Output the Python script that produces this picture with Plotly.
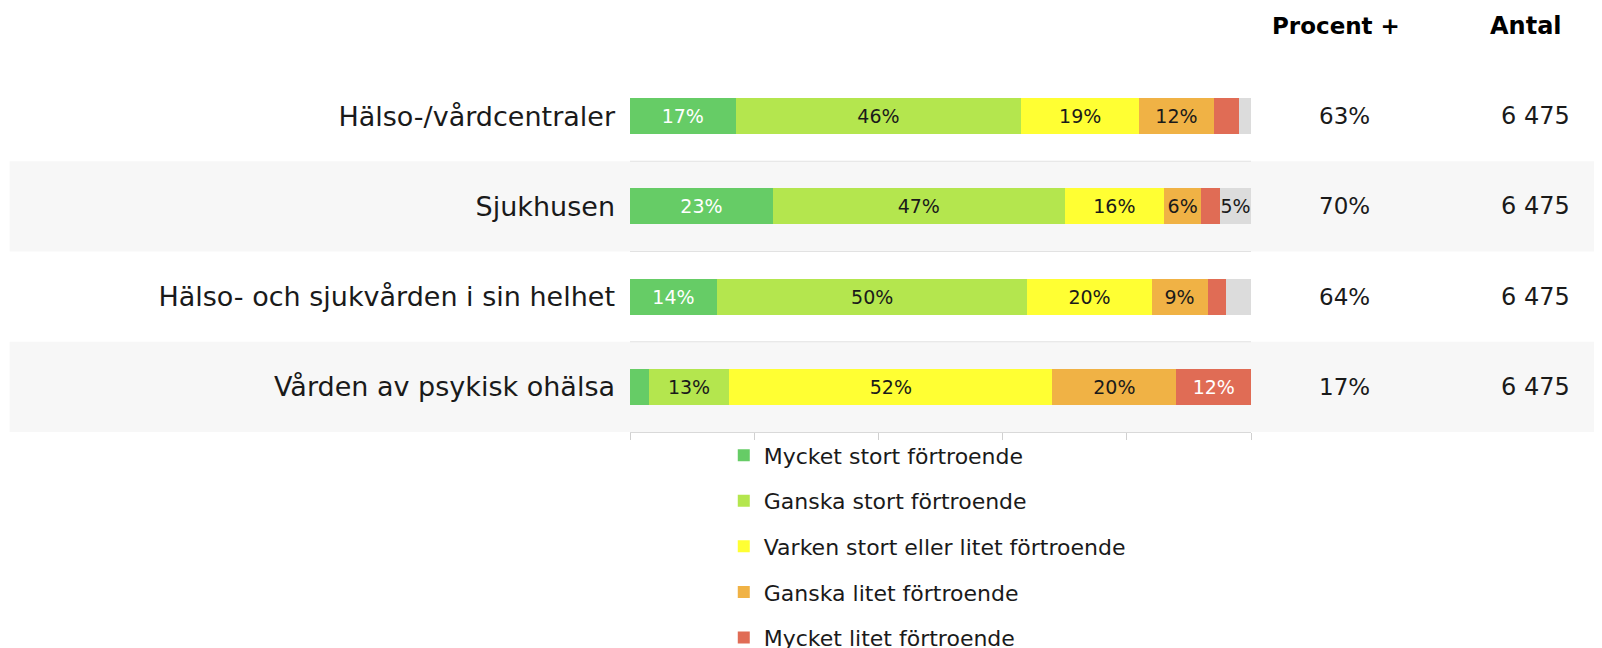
import plotly.graph_objects as go

categories = [
    "Hälso-/vårdcentraler",
    "Sjukhusen",
    "Hälso- och sjukvården i sin helhet",
    "Vården av psykisk ohälsa",
]
series_names = [
    "Mycket stort förtroende",
    "Ganska stort förtroende",
    "Varken stort eller litet förtroende",
    "Ganska litet förtroende",
    "Mycket litet förtroende",
    "Vet ej",
]
mycket_stort = [17, 23, 14, 3]
ganska_stort = [46, 47, 50, 13]
varken = [19, 16, 20, 52]
ganska_litet = [12, 6, 9, 20]
mycket_litet = [4, 3, 3, 12]
vet_ej = [2, 5, 4, 0]
procent_plus = ["63%", "70%", "64%", "17%"]
antal = ["6 475", "6 475", "6 475", "6 475"]

series_values = [mycket_stort, ganska_stort, varken, ganska_litet, mycket_litet, vet_ej]
colors = ["#66CC66", "#B4E64E", "#FFFF33", "#F0B245", "#E06C55", "#DCDCDC"]
text_colors = ["white", "#1a1a1a", "#1a1a1a", "#1a1a1a", "white", "#1a1a1a"]
show_in_legend = [True, True, True, True, True, False]

FONT = "DejaVu Sans"
TXT = "#1a1a1a"

fig = go.Figure()
for name, vals, col, tcol, sl in zip(series_names, series_values, colors, text_colors, show_in_legend):
    fig.add_trace(go.Bar(
        y=categories,
        x=vals,
        name=name,
        orientation="h",
        marker=dict(color=col, line=dict(width=0)),
        text=[f"{v}%" if v >= 5 else "" for v in vals],
        textposition="inside",
        insidetextanchor="middle",
        textangle=0,
        constraintext="none",
        textfont=dict(family=FONT, size=19, color=tcol),
        showlegend=sl,
        legendgroup=name,
        hoverinfo="skip",
    ))

shapes = []
# alternating row bands (rows 2 and 4)
for i in range(len(categories)):
    if i % 2 == 1:
        shapes.append(dict(type="rect", xref="paper", yref="y",
                           x0=-0.999, x1=1.6, y0=i - 0.5, y1=i + 0.5,
                           fillcolor="#F7F7F7", line=dict(width=0), layer="below"))
# row separators
for i in range(len(categories) - 1):
    shapes.append(dict(type="line", xref="x domain", yref="y",
                       x0=0, x1=1, y0=i + 0.5, y1=i + 0.5,
                       line=dict(color="#E2E2E2", width=1), layer="below"))

annotations = [
    dict(text="<b>Procent +</b>", xref="paper", yref="paper", x=1.1374, y=1.1247,
         xanchor="center", yanchor="middle", showarrow=False,
         font=dict(family=FONT, size=23, color="#000")),
    dict(text="<b>Antal</b>", xref="paper", yref="paper", x=1.4435, y=1.1247,
         xanchor="center", yanchor="middle", showarrow=False,
         font=dict(family=FONT, size=24, color="#000")),
]
for cat, p, a in zip(categories, procent_plus, antal):
    annotations.append(dict(text=p, xref="paper", yref="y", x=1.1511, y=cat,
                            xanchor="center", yanchor="middle", showarrow=False,
                            font=dict(family=FONT, size=23, color=TXT)))
    annotations.append(dict(text=a, xref="paper", yref="y", x=1.5177, y=cat,
                            xanchor="right", yanchor="middle", showarrow=False,
                            font=dict(family=FONT, size=24, color=TXT)))

fig.update_layout(
    width=1602, height=648,
    margin=dict(l=622, r=359, t=63, b=224, autoexpand=False),
    barmode="stack",
    bargap=0.6,
    paper_bgcolor="white",
    plot_bgcolor="rgba(0,0,0,0)",
    font=dict(family=FONT, color=TXT),
    shapes=shapes,
    annotations=annotations,
    legend=dict(
        x=0.151, y=-0.0065, xanchor="left", yanchor="top",
        orientation="v", traceorder="grouped", tracegroupgap=14,
        font=dict(family=FONT, size=22, color=TXT),
        bgcolor="rgba(0,0,0,0)",
    ),
    xaxis=dict(
        range=[0, 100], tickvals=[0, 20, 40, 60, 80, 100], showticklabels=False,
        ticks="outside", ticklen=7, tickcolor="#D0D0D0", showgrid=False,
        showline=True, linecolor="#D9D9D9", linewidth=1, zeroline=False, fixedrange=True,
    ),
    yaxis=dict(
        type="category", categoryorder="array", categoryarray=categories,
        range=[3.5, -0.5], showgrid=False, zeroline=False, showline=False,
        ticks="", ticklabelstandoff=14,
        tickfont=dict(family=FONT, size=27, color=TXT), fixedrange=True,
    ),
)

fig.write_html("out.html")
